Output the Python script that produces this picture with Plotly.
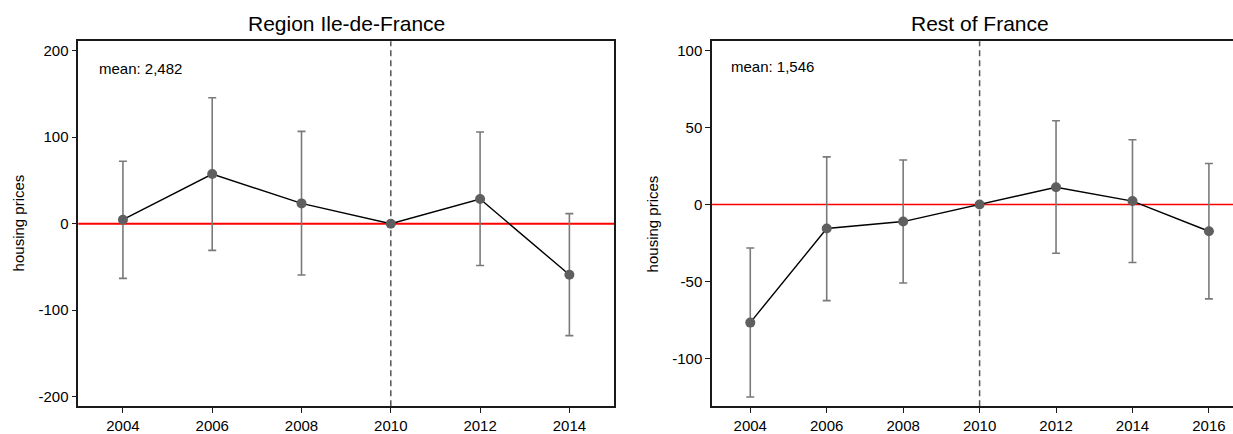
import plotly.graph_objects as go
import math

# ---- data ----
years_idf = [2004, 2006, 2008, 2010, 2012, 2014]
coef_idf = [4.6, 57.4, 23.5, 0.0, 28.5, -59.0]
ci_hi_idf = [72.2, 145.6, 106.8, math.nan, 106.0, 11.7]
ci_lo_idf = [-63.2, -30.8, -59.3, math.nan, -48.3, -129.3]

years_rof = [2004, 2006, 2008, 2010, 2012, 2014, 2016]
coef_rof = [-76.7, -15.6, -11.1, 0.0, 11.2, 2.2, -17.4]
ci_hi_rof = [-28.3, 30.9, 28.9, math.nan, 54.3, 42.0, 26.6]
ci_lo_rof = [-125.0, -62.4, -51.0, math.nan, -31.7, -37.7, -61.3]

yticks_idf = [-200, -100, 0, 100, 200]
yticks_rof = [-100, -50, 0, 50, 100]

titles = ["Region Ile-de-France", "Rest of France"]
means = ["mean: 2,482", "mean: 1,546"]
ytitle = "housing prices"
event_year = 2010

FONT = "Arial, Liberation Sans, sans-serif"
MARK = "#5f5f5f"
ERR = "#7a7a7a"

def err(coef, hi, lo):
    up = [h - c if not math.isnan(h) else math.nan for c, h in zip(coef, hi)]
    dn = [c - l if not math.isnan(l) else math.nan for c, l in zip(coef, lo)]
    return up, dn

fig = go.Figure()
for i, (yrs, c, hi, lo) in enumerate([(years_idf, coef_idf, ci_hi_idf, ci_lo_idf),
                                       (years_rof, coef_rof, ci_hi_rof, ci_lo_rof)]):
    up, dn = err(c, hi, lo)
    sfx = "" if i == 0 else "2"
    fig.add_trace(go.Scatter(
        x=yrs, y=c, mode="lines+markers",
        line=dict(color="black", width=1.4),
        marker=dict(color=MARK, size=10),
        error_y=dict(type="data", symmetric=False, array=up, arrayminus=dn,
                     color=ERR, thickness=1.6, width=4),
        xaxis="x" + sfx, yaxis="y" + sfx, showlegend=False))

axis_common = dict(showline=True, linecolor="#1a1a1a", linewidth=1.5, ticks="outside",
                   ticklen=5, tickwidth=1.2, tickcolor="#1a1a1a", showgrid=False,
                   zeroline=False, tickfont=dict(family=FONT, size=15, color="black"))

ybot, ytop = 0.053, 0.904
fig.update_layout(
    width=1233, height=434, margin=dict(l=0, r=0, t=0, b=0),
    paper_bgcolor="white", plot_bgcolor="white",
    xaxis=dict(domain=[0.0635, 0.498], range=[2003, 2015],
               tickvals=years_idf, mirror=True, anchor="y", **axis_common),
    yaxis=dict(domain=[ybot, ytop], range=[-211, 211],
               tickvals=yticks_idf, ticktext=[str(v) for v in yticks_idf],
               mirror=True, anchor="x", **axis_common),
    xaxis2=dict(domain=[0.5775, 1.0], range=[2003, 2016.63],
                tickvals=years_rof, mirror=True, anchor="y2", **axis_common),
    yaxis2=dict(domain=[ybot, ytop], range=[-131, 106],
                tickvals=yticks_rof, ticktext=[str(v) for v in yticks_rof],
                mirror=False, anchor="x2", **axis_common),
)

shapes = []
for i, sfx in enumerate(["", "2"]):
    shapes.append(dict(type="line", xref=f"x{sfx} domain", yref=f"y{sfx}",
                       x0=0, x1=1, y0=0, y1=0, layer="below",
                       line=dict(color="#ff0000", width=2 if i == 0 else 1.5)))
    shapes.append(dict(type="line", xref=f"x{sfx}", yref=f"y{sfx} domain",
                       x0=event_year, x1=event_year, y0=0, y1=1, layer="below",
                       line=dict(color="#555555", width=1.5, dash="6px,4px")))
fig.update_layout(shapes=shapes)

ann = []
# titles
ann.append(dict(text=titles[0], x=346 / 1233, y=1 - 24 / 434, xref="paper", yref="paper",
                showarrow=False, xanchor="center", yanchor="middle",
                font=dict(family=FONT, size=21, color="black")))
ann.append(dict(text=titles[1], x=980 / 1233, y=1 - 24 / 434, xref="paper", yref="paper",
                showarrow=False, xanchor="center", yanchor="middle",
                font=dict(family=FONT, size=21, color="black")))
# mean labels
ann.append(dict(text=means[0], x=97 / 1233, y=1 - 69 / 434, xref="paper", yref="paper",
                showarrow=False, xanchor="left", yanchor="middle",
                font=dict(family=FONT, size=15, color="black")))
ann.append(dict(text=means[1], x=729 / 1233, y=1 - 67 / 434, xref="paper", yref="paper",
                showarrow=False, xanchor="left", yanchor="middle",
                font=dict(family=FONT, size=15, color="black")))
# y titles
for xp in [18, 652]:
    ann.append(dict(text=ytitle, x=xp / 1233, y=1 - 226 / 434, xref="paper", yref="paper",
                    showarrow=False, xanchor="center", yanchor="middle", textangle=-90,
                    font=dict(family=FONT, size=15, color="black")))
fig.update_layout(annotations=ann)

fig.write_html("out.html", config={"displayModeBar": False},
               post_script="document.body.style.margin='0';document.body.style.overflow='hidden';")
